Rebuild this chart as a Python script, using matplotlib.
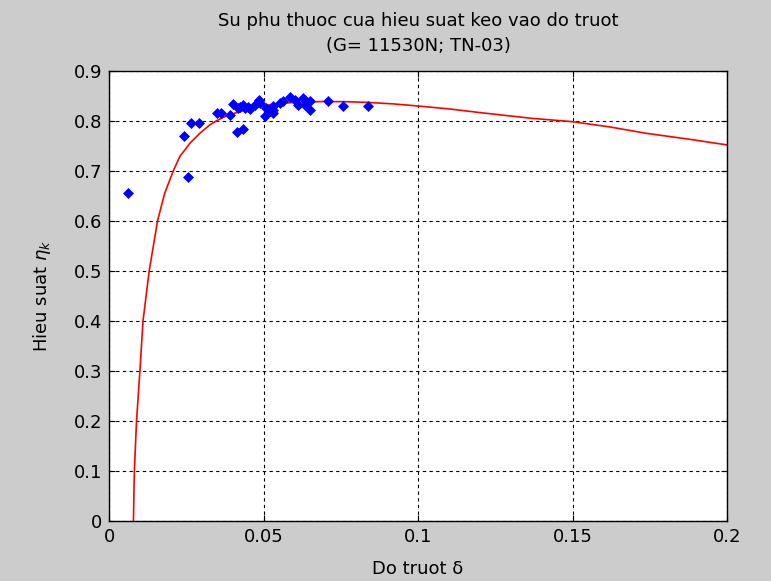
import matplotlib
matplotlib.use("Agg")
import matplotlib.pyplot as plt

# measured points (slip, traction efficiency)
slip_pts = [0.0060, 0.0242, 0.0256, 0.0266, 0.0292, 0.0350, 0.0362, 0.0393,
            0.0402, 0.0413, 0.0417, 0.0425, 0.0434, 0.0434, 0.0440, 0.0450,
            0.0456, 0.0472, 0.0486, 0.0488, 0.0504, 0.0509, 0.0520, 0.0531,
            0.0531, 0.0531, 0.0553, 0.0563, 0.0585, 0.0601, 0.0612, 0.0628,
            0.0633, 0.0649, 0.0649, 0.0709, 0.0757, 0.0838]
eff_pts = [0.655, 0.770, 0.687, 0.795, 0.795, 0.815, 0.815, 0.812,
           0.834, 0.777, 0.825, 0.827, 0.783, 0.832, 0.826, 0.828,
           0.824, 0.832, 0.842, 0.835, 0.809, 0.825, 0.819, 0.829,
           0.815, 0.822, 0.835, 0.839, 0.847, 0.842, 0.832, 0.845,
           0.832, 0.839, 0.822, 0.839, 0.829, 0.829]

# fitted curve
slip_fit = [0.0079, 0.0082, 0.0089, 0.0100, 0.0110, 0.0130, 0.0157, 0.0180,
            0.0208, 0.0229, 0.0262, 0.0294, 0.0326, 0.0350, 0.0380, 0.0434,
            0.0488, 0.0540, 0.0600, 0.0690, 0.0760, 0.0837, 0.0920, 0.0996,
            0.1100, 0.1199, 0.1370, 0.1495, 0.1620, 0.1737, 0.1870, 0.2000]
eff_fit = [0.000, 0.100, 0.200, 0.300, 0.400, 0.500, 0.600, 0.655,
           0.700, 0.7287, 0.7553, 0.7753, 0.792, 0.801, 0.810, 0.8207,
           0.829, 0.834, 0.837, 0.8387, 0.8385, 0.837, 0.834, 0.830,
           0.824, 0.8167, 0.805, 0.7987, 0.788, 0.7753, 0.764, 0.752]

fig = plt.figure(figsize=(7.71, 5.81), dpi=100, facecolor='#cccccc')
ax = fig.add_axes([0.1414, 0.1033, 0.8016, 0.7747])
ax.set_facecolor('white')

ax.plot(slip_fit, eff_fit, color='red', linewidth=1.2)
ax.plot(slip_pts, eff_pts, linestyle='none', marker='D', markersize=5.2,
        color='blue', markeredgecolor='blue', markeredgewidth=0.5)

ax.set_xlim(0, 0.2)
ax.set_ylim(0, 0.9)
ax.set_xticks([0, 0.05, 0.1, 0.15, 0.2])
ax.set_xticklabels(['0', '0.05', '0.1', '0.15', '0.2'])
ax.set_yticks([0, 0.1, 0.2, 0.3, 0.4, 0.5, 0.6, 0.7, 0.8, 0.9])
ax.set_yticklabels(['0', '0.1', '0.2', '0.3', '0.4', '0.5', '0.6', '0.7', '0.8', '0.9'])
ax.grid(True, color='black', linestyle=(0, (3, 3)), linewidth=0.8)
ax.tick_params(direction='in', top=True, right=True, labelsize=13, length=4, pad=5)
for sp in ax.spines.values():
    sp.set_linewidth(1.0)

ax.set_title('Su phu thuoc cua hieu suat keo vao do truot\n(G= 11530N; TN-03)',
             fontsize=13, pad=14, linespacing=1.5)
ax.set_xlabel('Do truot δ', fontsize=13, labelpad=10)
ax.set_ylabel(r'Hieu suat $\eta_k$', fontsize=13, labelpad=15)

fig.savefig('out.png', dpi=100, facecolor=fig.get_facecolor())
